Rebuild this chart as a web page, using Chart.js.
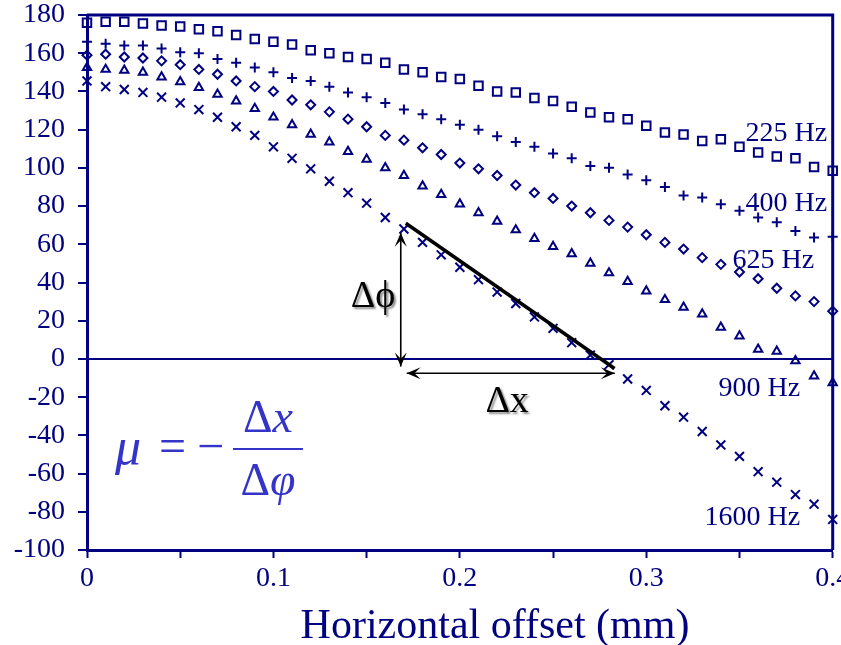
<!DOCTYPE html>
<html>
<head>
<meta charset="utf-8">
<script src="https://cdn.jsdelivr.net/npm/chart.js@4/dist/chart.umd.min.js"></script>
<style>
html, body { margin: 0; padding: 0; background: #fff; }
#chart { display: block; }
</style>
</head>
<body>
<canvas id="chart" width="841" height="645"></canvas>
<script>
// horizontal offset (mm) of every measured point
const offsets = [0, 0.01, 0.02, 0.03, 0.04, 0.05, 0.06, 0.07, 0.08, 0.09, 0.1,
  0.11, 0.12, 0.13, 0.14, 0.15, 0.16, 0.17, 0.18, 0.19, 0.2,
  0.21, 0.22, 0.23, 0.24, 0.25, 0.26, 0.27, 0.28, 0.29, 0.3,
  0.31, 0.32, 0.33, 0.34, 0.35, 0.36, 0.37, 0.38, 0.39, 0.4];

// phase (degrees) per frequency
const phase225 = [176, 176.5, 176.5, 175.5, 174.5, 174, 172.5, 171.5, 169.5, 167.5, 166,
  164.5, 161.5, 160, 158, 157, 155, 151.5, 150, 147.5, 146.5,
  143, 140, 139.5, 136.5, 135, 132, 129, 126.5, 125.5, 122,
  118.5, 117.5, 114, 115, 111, 108, 106, 105, 100.5, 98.5];
const phase400 = [166, 165, 164, 164, 162.5, 160.5, 160, 157, 155, 152.5, 150,
  147, 145.5, 142.5, 139.5, 137, 134, 130.5, 128, 125.5, 122.5,
  120, 116.5, 113.5, 111, 107.5, 105, 101, 100, 96.5, 93.5,
  90, 85.5, 84.5, 81, 77.5, 74, 71.5, 67, 63.5, 64];
const phase625 = [159, 159.5, 158, 157.5, 156, 154, 151.5, 149, 145.5, 142.5, 140,
  135.5, 133, 129.3, 125.5, 121.5, 117, 114.5, 110.5, 107, 102.5,
  99.5, 96, 91, 87, 84, 80, 76.5, 72.5, 69, 65,
  61, 57.5, 53, 49.5, 45.5, 42, 37, 33, 30, 25];
const phase900 = [152.5, 151.5, 151, 150, 147.5, 145, 142, 138.5, 135, 131, 126.5,
  122.5, 117.5, 113.5, 108.5, 104.5, 100, 96, 90.5, 86, 81,
  76.5, 72, 67.5, 63, 58.8, 55, 50, 45, 40.5, 35.5,
  31, 27, 23.5, 16.5, 12, 5, 4, -1, -9, -12.5];
const phase1600 = [145.5, 142.5, 141, 139.5, 137, 134, 130.5, 126.5, 121.5, 117, 111,
  105, 99.5, 93, 87, 81.5, 74, 68, 61, 54.5, 48,
  41.5, 35, 29, 22, 16, 8.5, 2, -3, -10.5, -16.5,
  -24.5, -30.5, -38, -45, -51, -59, -64.5, -71, -76, -84];

const seriesNames = ['225 Hz', '400 Hz', '625 Hz', '900 Hz', '1600 Hz'];

const xTicks = [0, 0.05, 0.1, 0.15, 0.2, 0.25, 0.3, 0.35, 0.4];
const xTickLabels = ['0', '', '0.1', '', '0.2', '', '0.3', '', '0.4'];

// slope line and the delta arrows, in data units
const slopeX = [0.171, 0.283];
const slopeY = [71, -5];
const dPhiArrowX = 0.1683;
const dPhiArrowY = [66, -4];
const dXArrowY = -7.5;
const dXArrowX = [0.1715, 0.2831];

// series label anchors (right edge, baseline), in data units
const labelX = [0.397, 0.397, 0.390, 0.3825, 0.3825];
const labelY = [114, 77.5, 47.5, -19.5, -87];

const navy = '#000080';
const serif = '"Liberation Serif", "Times New Roman", serif';

function pts(ys) {
  return offsets.map((x, i) => ({ x: x, y: ys[i] }));
}

function marker(label, ys, style, r) {
  return {
    type: 'scatter',
    label: label,
    data: pts(ys),
    pointStyle: style,
    pointRadius: r,
    pointBorderWidth: 2,
    borderColor: navy,
    backgroundColor: 'rgba(0,0,0,0)',
    clip: false
  };
}

function arrowHead(ctx, x1, y1, x2, y2) {
  const a = Math.atan2(y2 - y1, x2 - x1);
  const len = 14, w = 6;
  const c = Math.cos(a), s = Math.sin(a);
  ctx.beginPath();
  ctx.moveTo(x2, y2);
  ctx.lineTo(x2 - len * c + w * s, y2 - len * s - w * c);
  ctx.lineTo(x2 - len * 0.55 * c, y2 - len * 0.55 * s);
  ctx.lineTo(x2 - len * c - w * s, y2 - len * s + w * c);
  ctx.closePath();
  ctx.fill();
}

function doubleArrow(ctx, x1, y1, x2, y2) {
  ctx.beginPath();
  ctx.moveTo(x1, y1);
  ctx.lineTo(x2, y2);
  ctx.stroke();
  arrowHead(ctx, x1, y1, x2, y2);
  arrowHead(ctx, x2, y2, x1, y1);
}

const decor = {
  id: 'decor',
  beforeDatasetsDraw(chart) {
    const ctx = chart.ctx, a = chart.chartArea;
    ctx.save();
    ctx.strokeStyle = navy;
    ctx.lineWidth = 3;
    ctx.beginPath();
    ctx.moveTo(a.left, a.top);
    ctx.lineTo(a.right, a.top);
    ctx.lineTo(a.right, a.bottom);
    ctx.stroke();
    ctx.restore();
  },
  afterDatasetsDraw(chart) {
    const ctx = chart.ctx;
    const xs = chart.scales.x, ys = chart.scales.y;
    ctx.save();

    // delta arrows
    ctx.strokeStyle = '#000';
    ctx.fillStyle = '#000';
    ctx.lineWidth = 1.6;
    const vx = xs.getPixelForValue(dPhiArrowX);
    doubleArrow(ctx, vx, ys.getPixelForValue(dPhiArrowY[0]), vx, ys.getPixelForValue(dPhiArrowY[1]));
    const hy = ys.getPixelForValue(dXArrowY);
    doubleArrow(ctx, xs.getPixelForValue(dXArrowX[0]), hy, xs.getPixelForValue(dXArrowX[1]), hy);

    // delta labels with a soft shadow
    ctx.font = '38px ' + serif;
    ctx.textAlign = 'left';
    ctx.textBaseline = 'alphabetic';
    ctx.shadowColor = 'rgba(0,0,0,0.45)';
    ctx.shadowOffsetX = 2;
    ctx.shadowOffsetY = 2;
    ctx.shadowBlur = 2;
    ctx.fillText('\u0394\u03d5', vx - 50, ys.getPixelForValue(27));
    ctx.fillText('\u0394x', xs.getPixelForValue(0.2137), ys.getPixelForValue(-28));
    ctx.shadowColor = 'rgba(0,0,0,0)';

    // series labels
    ctx.fillStyle = navy;
    ctx.font = '28px ' + serif;
    ctx.textAlign = 'right';
    seriesNames.forEach((n, i) => {
      ctx.fillText(n, xs.getPixelForValue(labelX[i]), ys.getPixelForValue(labelY[i]));
    });

    // mu = - dx / dphi
    const fx = xs.getPixelForValue(0.015), fy = ys.getPixelForValue(-54);
    ctx.fillStyle = '#3434c8';
    ctx.strokeStyle = '#3434c8';
    ctx.textAlign = 'left';
    ctx.font = 'italic 52px ' + serif;
    ctx.fillText('\u03bc', fx, fy + 2);
    ctx.font = '48px ' + serif;
    ctx.fillText('=', fx + 44, fy);
    ctx.fillText('\u2212', fx + 82, fy);
    ctx.lineWidth = 2;
    ctx.beginPath();
    ctx.moveTo(fx + 118, fy - 13);
    ctx.lineTo(fx + 188, fy - 13);
    ctx.stroke();
    const mid = fx + 153;
    function part(it, base) {
      ctx.font = '46px ' + serif;
      const w1 = ctx.measureText('\u0394').width;
      ctx.font = 'italic 46px ' + serif;
      const w2 = ctx.measureText(it).width;
      const left = mid - (w1 + w2) / 2;
      ctx.font = '46px ' + serif;
      ctx.fillText('\u0394', left, base);
      ctx.font = 'italic 46px ' + serif;
      ctx.fillText(it, left + w1, base);
    }
    part('x', fy - 30);
    part('\u03c6', fy + 33);

    // axis title
    ctx.fillStyle = navy;
    ctx.font = '42px ' + serif;
    ctx.textAlign = 'center';
    ctx.fillText('Horizontal offset (mm)', 495, 638);
    ctx.restore();
  }
};

new Chart(document.getElementById('chart'), {
  data: {
    datasets: [
      {
        type: 'line',
        label: 'slope',
        data: slopeX.map((x, i) => ({ x: x, y: slopeY[i] })),
        borderColor: '#000',
        borderWidth: 3.5,
        pointRadius: 0,
        order: -1
      },
      marker(seriesNames[0], phase225, 'rect', 6),
      marker(seriesNames[1], phase400, 'cross', 5),
      marker(seriesNames[2], phase625, 'rectRot', 4.5),
      marker(seriesNames[3], phase900, 'triangle', 4.8),
      marker(seriesNames[4], phase1600, 'crossRot', 6.3)
    ]
  },
  options: {
    responsive: false,
    animation: false,
    layout: { padding: { top: 15, right: 5, left: 0, bottom: 0 } },
    plugins: { legend: { display: false }, tooltip: { enabled: false } },
    scales: {
      x: {
        type: 'linear',
        min: 0,
        max: 0.4,
        afterBuildTicks: s => { s.ticks = xTicks.map(v => ({ value: v })); },
        afterFit: s => { s.height = 95; s.paddingLeft = 0; s.paddingRight = 0; },
        ticks: {
          autoSkip: false,
          maxRotation: 0,
          padding: 4,
          color: navy,
          font: { family: serif, size: 28 },
          callback: (v, i) => xTickLabels[i]
        },
        grid: { drawOnChartArea: false, tickLength: 8, tickColor: navy, tickWidth: 2 },
        border: { color: navy, width: 3 }
      },
      y: {
        type: 'linear',
        min: -100,
        max: 180,
        afterFit: s => { s.width = 87; s.paddingTop = 0; s.paddingBottom = 0; },
        ticks: {
          stepSize: 20,
          padding: 13,
          color: navy,
          font: { family: serif, size: 28 }
        },
        grid: {
          color: c => (c.tick && c.tick.value === 0 ? navy : 'rgba(0,0,0,0)'),
          lineWidth: 2,
          tickLength: 9,
          tickColor: navy,
          tickWidth: 2
        },
        border: { color: navy, width: 3 }
      }
    }
  },
  plugins: [decor]
});
</script>
</body>
</html>
